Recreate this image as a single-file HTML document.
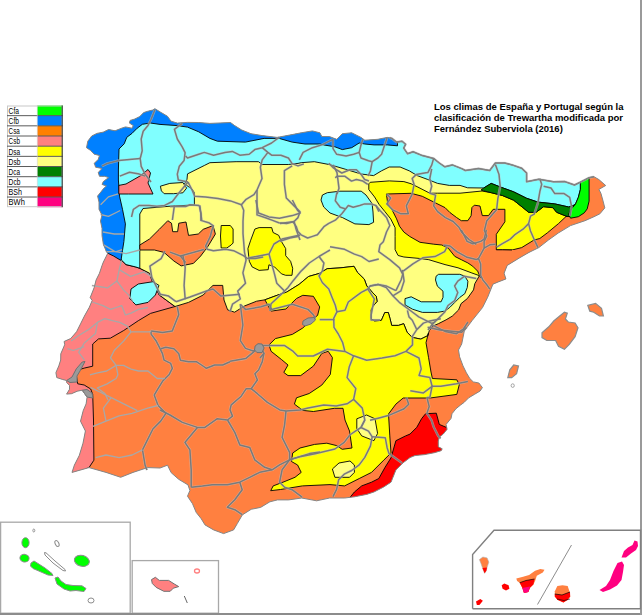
<!DOCTYPE html>
<html><head><meta charset="utf-8"><style>
html,body{margin:0;padding:0;background:#fff;width:642px;height:615px;overflow:hidden;position:relative;font-family:"Liberation Sans",sans-serif}
.t{position:absolute;left:434px;top:100.6px;font-size:9.5px;font-weight:bold;line-height:11.1px;color:#000;white-space:nowrap}
</style></head><body>
<svg width="642" height="615" viewBox="0 0 642 615" style="position:absolute;left:0;top:0"><clipPath id="land"><polygon points="87.8,141.2 91.7,136.0 96.9,133.4 103.4,132.1 108.6,129.5 115.1,130.8 121.6,128.2 125.5,126.9 132.0,128.2 133.3,125.6 129.4,123.0 130.1,120.4 134.6,119.1 139.8,116.5 143.7,112.6 147.6,111.3 152.8,110.0 154.9,108.7 161.1,112.5 167.4,116.2 171.1,121.2 177.3,123.1 187.3,122.4 198.7,122.5 209.9,123.4 230.5,122.5 234.2,125.3 241.7,130.0 251.0,133.7 262.2,135.6 277.2,137.4 292.1,134.6 301.2,132.8 312.4,130.9 319.9,132.8 321.8,136.5 329.3,136.5 336.7,139.3 342.3,133.7 351.7,132.8 361.0,137.4 364.8,140.2 377.9,139.3 387.2,137.4 389.5,137.8 391.9,138.4 396.5,142.1 402.1,141.2 405.6,144.3 403.7,148.1 407.5,153.7 413.1,151.8 422.4,155.6 433.6,158.4 439.3,163.0 444.9,166.8 452.3,164.9 461.7,168.6 465.4,170.5 478.5,168.6 489.7,170.5 495.3,163.0 504.7,163.0 512.1,164.9 521.7,168.3 526.6,173.0 526.6,181.7 538.8,179.3 553.4,181.7 564.8,181.6 574.5,185.0 580.4,182.1 589.1,177.7 594.0,176.7 598.9,179.6 605.7,185.5 598.9,189.4 600.9,193.3 602.8,200.1 604.8,207.9 599.9,213.8 594.0,216.7 585.0,220.7 570.5,225.6 558.3,233.0 548.5,240.0 538.8,247.6 529.0,252.4 520.0,257.6 507.2,265.4 504.1,273.2 505.9,279.0 498.0,282.0 492.9,284.2 487.7,297.2 482.5,307.6 472.1,320.6 464.3,331.0 461.7,344.0 458.5,350.0 459.6,356.8 463.0,365.9 466.4,372.8 469.8,378.5 473.3,381.9 478.9,383.0 482.4,387.6 480.1,391.0 474.4,394.4 468.7,397.8 464.1,402.4 460.7,404.9 455.9,408.8 452.0,413.7 451.0,418.5 446.1,424.4 447.1,429.3 443.2,434.1 439.3,437.1 438.3,441.0 438.3,446.8 442.2,448.8 441.2,450.7 434.4,452.7 424.6,454.6 414.9,455.6 410.0,457.6 403.2,462.7 395.9,470.0 391.0,482.2 383.7,487.0 373.9,492.0 366.6,494.4 354.4,496.8 344.7,498.0 329.7,498.0 316.6,500.8 301.7,498.0 288.6,499.9 277.4,499.9 269.9,501.8 260.6,507.4 251.2,509.3 242.3,514.9 237.3,523.6 233.6,529.9 223.6,533.6 213.6,529.9 205.0,524.9 201.2,518.7 196.2,512.4 192.5,503.7 187.5,496.2 189.9,490.5 188.0,484.9 178.7,479.3 171.2,472.7 167.5,465.2 160.0,468.0 147.6,467.6 133.0,472.4 120.7,477.3 106.0,472.4 89.0,467.6 72.0,472.4 74.4,465.1 79.3,455.4 83.0,443.2 85.4,431.0 80.5,421.2 83.2,410.7 86.1,403.9 87.1,397.1 82.2,390.2 77.3,391.2 71.5,393.7 66.6,394.1 69.5,389.3 69.5,385.4 66.6,382.4 66.6,380.5 62.7,379.5 56.8,377.6 55.9,372.7 58.8,365.9 60.7,360.0 60.8,353.8 64.7,344.7 64.1,341.5 70.7,338.5 76.6,331.7 80.5,323.9 84.4,316.1 89.3,307.3 92.2,300.5 90.2,297.6 94.1,287.8 96.1,280.0 99.4,273.4 102.0,265.6 103.4,262.0 107.8,253.2 106.4,251.7 103.4,244.4 102.0,235.6 102.0,228.3 100.5,221.0 102.0,215.1 99.0,209.3 99.0,202.0 97.6,196.1 103.4,188.8 106.4,185.9 102.0,184.4 103.4,181.5 108.6,177.6 104.7,176.3 99.5,176.3 98.2,172.4 102.1,168.5 95.6,167.2 94.3,163.3 98.2,159.4 99.5,155.5 94.3,154.2 90.4,150.3 86.5,147.7"/></clipPath><g clip-path="url(#land)"><rect x="0" y="0" width="642" height="615" fill="#FF8040"/><polygon points="106.6,250.0 111.5,253.7 121.2,259.8 126.0,264.6 135.9,267.0 139.8,268.3 149.5,273.2 152.0,280.5 159.3,295.0 175.0,306.5 150.5,313.4 138.3,320.7 123.7,330.5 110.3,338.2 98.5,338.9 92.7,344.0 92.7,366.2 84.2,368.1 77.7,370.1 76.4,375.9 77.7,383.8 84.2,385.0 90.7,389.0 92.7,394.4 93.5,420.0 93.9,460.2 89.0,467.6 60.0,480.0 40.0,300.0 90.0,240.0" fill="#FF8080" stroke="#000" stroke-width="0.9"/><polygon points="115.0,150.0 490.0,150.0 490.0,200.0 482.0,272.0 479.8,275.0 474.8,283.7 473.5,289.9 467.3,298.6 461.1,303.6 458.6,309.9 452.3,316.1 446.1,319.8 438.6,323.6 433.0,326.0 429.3,330.7 427.7,335.7 420.8,339.1 412.2,337.4 407.1,332.2 403.7,323.7 398.5,325.4 391.7,325.4 390.0,318.5 388.3,312.5 384.8,312.5 381.4,320.3 374.5,321.1 371.1,318.5 371.1,310.0 372.8,306.5 377.1,301.4 376.3,296.3 372.8,292.8 366.8,286.0 364.3,279.1 357.4,272.3 354.0,266.3 340.0,267.9 327.2,268.7 319.4,273.4 308.5,276.5 299.2,284.3 286.7,292.1 277.4,295.2 264.9,299.8 256.6,301.2 244.4,306.0 234.6,312.2 227.6,309.8 224.0,300.0 222.7,285.4 213.0,285.4 208.0,290.2 203.2,295.0 188.5,302.4 175.0,306.5 159.3,295.0 152.0,280.5 149.5,273.2 139.8,268.3 130.0,260.0 115.0,200.0" fill="#FFFF80" stroke="#000" stroke-width="0.9"/><polygon points="121.2,259.8 126.0,264.6 135.9,267.0 139.8,268.3 139.8,250.0 139.8,214.0 143.0,208.5 172.4,206.0 194.4,205.0 194.4,192.7 192.0,189.0 184.6,184.0 187.0,179.3 187.5,173.9 204.3,165.5 209.9,162.7 236.1,161.7 258.5,161.7 262.2,164.5 288.4,164.5 298.0,163.4 301.2,162.7 314.3,161.7 330.0,164.7 345.6,169.3 361.2,174.0 373.6,175.6 381.4,170.9 389.2,167.0 400.1,167.0 409.4,170.9 417.2,175.6 427.8,179.5 437.6,183.4 449.3,185.4 460.0,185.4 467.6,187.8 483.7,188.0 491.2,183.4 500.6,187.1 513.6,191.8 526.7,198.3 537.9,202.1 554.8,203.9 568.7,207.0 574.5,205.0 575.5,204.0 578.4,197.2 580.4,189.4 580.4,175.0 582.7,100.0 100.0,100.0 105.0,235.0 121.2,259.8" fill="#80FFFF" stroke="#000" stroke-width="0.9"/><polygon points="60.0,262.0 107.8,253.2 113.7,256.1 121.0,260.5 122.5,250.3 123.9,241.5 125.4,223.9 122.5,209.3 119.5,196.1 118.4,180.0 118.4,170.0 119.0,149.0 124.2,143.8 126.8,137.3 132.0,133.4 137.2,128.2 142.4,124.3 150.2,123.0 160.0,124.4 177.0,125.6 187.5,127.1 198.7,131.8 209.9,138.4 217.4,141.2 245.4,142.1 264.1,138.4 279.1,138.4 292.1,142.1 305.0,144.0 319.9,144.0 323.6,144.9 334.9,146.8 342.3,149.6 351.7,147.7 359.2,143.0 364.8,144.0 374.1,144.9 387.2,144.9 397.5,145.8 397.0,130.0 390.0,100.0 60.0,100.0" fill="#0080FF" stroke="#000" stroke-width="0.9"/><polygon points="368.8,183.8 370.2,182.3 389.3,180.9 403.9,181.6 411.2,183.8 417.1,186.7 429.8,193.2 437.6,193.2 460.0,193.2 482.0,191.0 491.2,192.7 502.4,195.5 513.6,200.2 523.0,207.7 528.6,212.3 536.1,212.3 543.6,206.7 552.9,207.7 556.6,212.3 566.0,216.1 571.6,216.1 566.0,216.5 558.5,223.6 547.3,232.9 539.8,238.5 534.0,240.0 521.7,247.6 512.0,250.0 502.6,249.8 496.3,249.8 480.0,275.9 471.1,272.7 458.0,267.8 445.0,264.6 428.8,259.7 420.0,258.5 403.9,257.0 398.1,255.5 395.1,249.7 395.1,236.5 395.1,227.7 390.7,218.9 384.9,211.6 379.0,204.3 374.6,197.0 368.8,189.6" fill="#FFFF00" stroke="#000" stroke-width="0.9"/><polygon points="386.4,194.0 393.0,193.8 411.2,193.3 422.3,196.3 435.3,202.8 445.0,207.6 449.9,212.5 456.4,217.4 461.3,220.7 467.8,220.7 471.1,215.8 471.9,207.6 474.3,205.2 480.0,206.0 482.3,215.6 488.5,215.6 493.2,209.3 504.9,209.3 504.9,221.8 496.3,234.3 496.3,249.8 502.6,249.8 512.0,250.0 530.0,250.0 520.0,300.0 480.7,277.9 477.6,271.1 472.7,266.2 467.8,262.9 461.3,259.7 454.8,256.4 448.3,248.3 441.8,245.0 433.7,244.2 420.0,242.3 409.8,236.5 403.9,232.1 399.5,226.2 396.6,218.9 392.2,210.1 387.8,204.3" fill="#FF8040"/><polyline points="480.7,277.9 477.6,271.1 472.7,266.2 467.8,262.9 461.3,259.7 454.8,256.4 448.3,248.3 441.8,245.0 433.7,244.2 420.0,242.3 409.8,236.5 403.9,232.1 399.5,226.2 396.6,218.9 392.2,210.1 387.8,204.3 386.4,194.0 393.0,193.8 411.2,193.3 422.3,196.3 435.3,202.8 445.0,207.6 449.9,212.5 456.4,217.4 461.3,220.7 467.8,220.7 471.1,215.8 471.9,207.6 474.3,205.2 480.0,206.0 482.3,215.6 488.5,215.6 493.2,209.3 504.9,209.3 504.9,221.8 496.3,234.3 496.3,249.8 502.6,249.8 512.0,250.0" fill="none" stroke="#000" stroke-width="0.9"/><polygon points="264.9,299.8 271.1,311.1 285.9,309.0 296.5,298.5 302.8,295.3 313.4,296.3 319.7,306.9 317.6,315.4 309.2,321.7 302.8,328.0 292.3,334.4 275.4,338.6 269.0,344.9 271.1,351.3 281.7,359.7 288.0,365.0 283.8,372.4 288.0,375.6 300.7,375.6 313.4,366.1 321.8,353.4 328.2,351.3 332.4,357.6 330.3,374.5 321.8,385.1 309.2,393.5 296.5,397.8 294.4,404.1 302.8,410.4 313.4,411.5 334.5,408.3 343.0,408.3 345.0,420.0 349.5,431.0 352.0,448.0 342.2,449.3 336.6,445.6 326.8,443.2 314.6,444.4 300.0,448.0 292.7,453.0 291.5,461.5 297.6,465.0 301.2,472.4 295.0,477.3 283.0,482.2 273.2,485.9 270.7,490.7 280.5,489.5 302.4,485.9 330.0,484.6 344.6,485.9 359.3,478.5 371.5,472.4 383.7,460.2 391.0,453.0 389.8,435.9 388.5,414.0 395.9,404.1 403.2,398.0 430.0,398.0 456.8,394.4 459.3,384.6 456.8,379.8 432.4,378.5 431.0,372.0 428.5,357.3 426.0,342.7 428.5,333.0 427.7,335.7 420.8,339.1 412.2,337.4 407.1,332.2 403.7,323.7 398.5,325.4 391.7,325.4 390.0,318.5 388.3,312.5 384.8,312.5 381.4,320.3 374.5,321.1 371.1,318.5 371.1,310.0 372.8,306.5 377.1,301.4 376.3,296.3 372.8,292.8 366.8,286.0 364.3,279.1 357.4,272.3 354.0,266.3 340.0,267.9 327.2,268.7 319.4,273.4 308.5,276.5 299.2,284.3 286.7,292.1 277.4,295.2" fill="#FFFF00" stroke="#000" stroke-width="0.9"/><polygon points="221.2,225.5 230.3,225.5 233.1,229.0 233.1,243.0 231.0,245.1 226.8,248.0 221.2,248.0 220.5,236.0" fill="#FFFF00" stroke="#000" stroke-width="0.9"/><polygon points="254.9,229.0 259.1,227.6 271.7,227.6 273.1,232.5 278.7,235.3 281.5,241.6 285.7,248.6 285.7,255.7 290.6,261.3 292.7,268.3 292.0,275.3 285.7,275.3 281.5,273.9 274.5,266.9 268.9,264.8 268.2,269.7 259.1,270.4 252.1,266.9 249.3,261.3 247.9,248.6 250.7,240.2" fill="#FFFF00" stroke="#000" stroke-width="0.9"/><polygon points="139.8,245.0 149.5,239.0 159.3,229.3 167.8,220.7 171.5,223.2 172.7,231.7 177.6,231.7 178.8,223.2 186.0,222.0 188.5,235.4 198.3,234.0 203.2,229.3 213.0,225.6 215.4,234.0 208.0,246.3 200.7,256.0 193.4,263.4 181.2,265.9 173.9,261.0 164.0,252.4 154.4,250.0 139.8,250.0" fill="#FF8040" stroke="#000" stroke-width="0.9"/><polygon points="321.0,200.0 323.7,207.0 330.0,213.0 342.5,217.6 354.9,223.9 368.9,224.6 373.6,222.3 373.0,212.0 372.1,203.6 366.0,195.0 361.2,191.2 340.0,191.2 327.3,192.7 322.4,195.0" fill="#80FFFF" stroke="#000" stroke-width="0.9"/><polygon points="438.6,274.3 459.8,274.3 464.8,276.2 467.9,281.2 467.3,287.4 464.8,293.7 459.8,297.4 454.8,302.4 449.8,307.4 444.9,311.1 437.4,312.4 422.4,312.4 412.5,309.2 405.0,304.9 405.0,298.6 411.2,296.8 421.2,301.8 441.1,301.8 443.0,297.4 443.0,291.2 437.4,286.2 435.5,280.0 436.1,276.2" fill="#80FFFF" stroke="#000" stroke-width="0.9"/><polygon points="131.0,289.0 138.3,284.0 153.0,281.7 159.0,285.4 155.4,295.0 148.0,302.4 135.9,304.9 129.8,298.8" fill="#80FFFF" stroke="#000" stroke-width="0.9"/><polygon points="356.8,418.8 366.6,415.0 375.0,418.8 377.6,433.4 373.9,440.7 361.7,435.9 356.8,428.5" fill="#FFFF80" stroke="#000" stroke-width="0.9"/><polygon points="332.4,469.0 339.0,463.0 350.0,461.0 354.4,465.0 354.4,472.4 349.5,477.3 334.9,477.3" fill="#FFFF80" stroke="#000" stroke-width="0.9"/><polygon points="160.4,186.2 169.8,183.4 182.9,182.5 186.6,188.1 182.9,192.8 173.5,193.7 164.2,193.7 161.4,190.9" fill="#FFFF80" stroke="#000" stroke-width="0.9"/><polygon points="118.8,185.4 126.0,184.0 140.7,175.6 148.0,169.5 150.5,173.0 148.0,183.0 153.0,194.0 143.0,194.0 128.5,194.0 118.8,194.0" fill="#FF8080" stroke="#000" stroke-width="0.9"/><polygon points="483.7,188.0 491.2,183.4 500.6,187.1 513.6,191.8 526.7,198.3 537.9,202.1 554.8,203.9 568.7,207.0 574.5,205.0 575.5,204.0 570.6,209.9 568.7,214.8 569.6,216.7 566.0,216.1 556.6,212.3 552.9,207.7 543.6,206.7 536.1,212.3 528.6,212.3 523.0,207.7 513.6,200.2 502.4,195.5 491.2,192.7 483.7,190.8 481.0,190.0" fill="#008000" stroke="#000" stroke-width="0.9"/><polygon points="580.4,175.0 589.1,175.0 589.1,201.1 587.2,208.9 584.3,212.8 578.4,216.7 570.6,218.2 568.7,214.8 570.6,209.9 575.5,204.0 578.4,197.2 580.4,189.4" fill="#00FF00" stroke="#000" stroke-width="0.9"/><polygon points="425.6,413.7 436.3,413.2 439.3,424.4 446.1,427.3 452.0,428.0 445.0,438.0 447.0,452.0 428.0,457.0 417.0,457.0 406.0,466.0 399.0,472.0 395.0,485.0 386.0,491.0 375.0,496.0 367.0,498.0 355.0,500.0 347.0,503.0 349.5,498.0 354.4,492.0 361.7,485.9 371.5,482.2 378.8,478.5 384.9,467.6 391.0,457.8 395.9,440.7 405.6,435.9 410.0,434.1 416.8,427.3 421.7,418.5" fill="#FF0000" stroke="#000" stroke-width="0.9"/></g><g fill="none" stroke="#c8c8c8" stroke-width="2.6" stroke-linejoin="round" opacity="0.55"><polyline points="154.9,109.8 151.0,119.5 148.0,125.4 143.2,131.2 141.2,139.0 142.2,150.7 140.2,158.5 141.2,166.3 145.1,174.1 151.0,182.0"/><polyline points="101.9,166.1 107.1,163.5 118.8,160.5 129.5,159.5 140.2,158.5"/><polyline points="119.8,176.1 129.5,172.2 139.3,174.1 145.1,176.1"/><polyline points="182.2,123.4 174.4,129.3 177.3,139.0 182.2,146.8 185.1,152.7 184.1,160.5 179.3,166.3 177.3,174.1 178.3,180.0 188.0,182.0"/><polyline points="185.6,156.0 187.5,158.0 198.7,154.3 204.3,152.4 213.6,155.2 224.9,152.4 232.3,151.4 239.8,155.2 249.2,154.3 254.8,149.6 262.2,147.7 271.6,143.0 279.1,137.4"/><polyline points="188.0,182.0 192.0,189.8 194.7,196.2 205.6,197.0 218.0,198.6 230.5,200.9 241.4,204.8 246.1,199.3 253.9,194.7 257.0,190.0"/><polyline points="188.0,182.0 178.3,193.7 172.4,201.5 164.6,205.4 156.8,206.3 149.0,205.4 139.3,205.4 133.4,209.3 131.5,217.0"/><polyline points="199.8,205.4 201.7,220.0"/><polyline points="174.4,205.4 172.4,220.0"/><polyline points="262.2,147.7 267.9,152.4 271.6,155.2 280.9,155.2 288.4,158.0 292.1,163.6 298.0,165.9 303.9,163.9"/><polyline points="267.9,152.4 262.2,159.9 260.4,167.3 262.0,178.5 257.0,190.0"/><polyline points="257.0,190.0 257.0,202.5 257.0,214.9 266.3,218.0 272.6,220.4 278.8,222.7 286.6,223.5 294.1,221.5 296.1,229.3 300.0,240.0"/><polyline points="292.2,165.9 284.4,170.7 284.4,184.4 286.3,198.0 294.1,205.9 300.0,211.7 298.0,217.6 294.1,221.5"/><polyline points="299.3,159.9 303.1,152.4 312.4,147.7 321.8,144.9 329.3,141.2 333.0,139.3"/><polyline points="333.0,139.3 333.0,148.6 336.7,154.3 346.1,156.1 353.6,154.3 359.2,152.4 361.0,158.0 368.5,160.8 372.2,161.7 377.9,158.0 381.6,154.3 383.5,148.6 385.3,143.0 387.2,137.4"/><polyline points="362.9,139.3 361.0,144.9 359.2,152.4"/><polyline points="333.2,164.9 337.0,172.7 339.0,188.3 337.0,194.1"/><polyline points="372.2,161.7 370.4,171.1 368.0,176.0"/><polyline points="328.8,163.3 333.7,168.1 341.8,173.0 349.9,169.8 356.4,169.8 361.3,174.6 364.6,179.5 369.0,181.0"/><polyline points="433.6,158.4 431.8,164.9 428.0,172.4 425.9,172.7 416.1,174.6 412.2,178.5 414.1,184.4 412.2,194.1 406.3,205.9 408.3,213.7 400.5,213.7 392.7,209.8 386.8,203.9 390.7,198.0 386.8,194.1"/><polyline points="431.7,168.8 429.8,178.5 431.7,186.3 429.8,193.2 435.6,195.1 433.7,205.9 437.6,211.7 445.4,217.6 453.2,221.5 459.0,227.3 461.7,232.2 469.0,239.5 476.3,244.4"/><polyline points="375.9,205.5 379.0,211.7"/><polyline points="495.4,164.6 499.0,174.4 500.2,186.6 497.8,198.8 496.6,209.8 486.8,220.7 484.4,230.5 486.8,236.0 484.1,241.4 484.1,248.2 478.5,258.5 480.7,264.1 480.7,275.5 483.0,280.1 487.6,285.8 489.8,289.2"/><polyline points="484.1,248.2 489.8,244.8 495.5,244.2"/><polyline points="539.8,178.7 541.7,184.3 539.8,191.8 537.9,203.0 536.1,208.6 534.2,214.2 530.5,216.1 528.6,223.6 530.5,231.0 535.6,242.7 538.0,247.6"/><polyline points="528.6,223.6 523.0,229.2 514.9,234.6 510.3,239.1 502.4,243.7 496.7,247.1"/><polyline points="543.6,186.2 551.0,188.0 554.8,193.6 564.1,193.6 569.7,197.4 571.6,206.7 570.0,216.0"/><polyline points="461.4,230.0 467.1,241.4 472.8,243.7 480.7,241.4 484.1,239.1 486.4,230.0"/><polyline points="395.9,290.7 386.1,285.9 378.1,284.4 370.0,286.0 367.8,289.0 361.3,292.3 354.8,297.2 348.3,302.0 345.0,310.2 336.9,311.8"/><polyline points="330.0,246.8 344.6,249.3 354.4,254.1 361.7,256.6 369.0,261.5 378.8,259.0"/><polyline points="403.2,271.2 412.9,263.9 422.7,257.8 434.9,256.6 444.6,251.7 447.0,246.8"/><polyline points="476.3,278.5 464.3,276.3 457.8,281.1 454.6,286.0 457.8,292.5 454.6,300.7 448.0,305.5 444.8,312.0 439.9,316.9 435.0,321.8 431.8,325.0 428.0,330.0"/><polyline points="370.0,286.0 378.1,284.4 386.3,287.6 392.8,295.8 399.3,302.3 405.8,307.2 412.3,312.0 418.8,316.9 425.3,320.2 431.8,323.4 435.0,321.8"/><polyline points="402.5,269.8 404.1,281.1 400.9,290.9 392.8,295.8"/><polyline points="319.0,256.5 323.9,263.0 322.3,271.1 319.0,276.0 322.3,282.5 328.8,289.0 332.0,297.2 335.3,305.3 336.9,311.8 333.7,318.3 334.0,327.4 338.3,334.0 342.7,342.7 344.9,351.4 353.6,355.8 366.7,360.2 382.0,358.0 395.0,355.8 405.9,351.4 412.5,344.9 412.5,336.2 416.8,329.6 423.4,323.1 429.9,320.9 440.8,318.7"/><polyline points="367.8,289.0 374.3,298.8 372.7,306.9 371.1,315.0 371.1,319.9 380.0,320.0"/><polyline points="319.7,319.6 334.5,319.6"/><polyline points="407.4,310.4 409.0,316.9 412.3,320.2 416.8,329.6"/><polyline points="427.6,327.3 440.0,330.0 461.7,332.2 466.6,327.3"/><polyline points="170.0,206.5 185.6,206.5 190.0,204.8 199.3,205.6"/><polyline points="199.3,205.6 200.9,213.4 200.9,220.4 208.7,222.7 213.4,225.8 211.8,230.5 210.2,236.7 205.6,246.1 207.1,249.2 213.4,250.7 225.8,249.2 233.6,250.7 243.0,255.4 247.6,258.5 255.4,258.5 263.2,257.0"/><polyline points="170.0,252.1 180.4,256.0 185.6,262.5"/><polyline points="180.4,256.0 203.9,249.5"/><polyline points="241.4,204.8 243.7,210.2 243.0,221.2 243.0,233.6 244.5,252.3 246.1,260.0 242.9,272.9 245.5,283.3 237.7,291.1 240.3,299.0 232.5,304.2 229.9,312.0"/><polyline points="255.9,200.0 258.5,213.0 269.0,216.9 279.4,218.2 292.4,215.6 300.2,213.0 297.6,210.4 292.4,200.0"/><polyline points="280.0,223.4 293.0,221.8 296.3,226.7 297.9,231.5 301.1,234.8 307.6,238.0 312.5,236.4 317.4,234.8 323.9,226.7 328.8,223.4 335.3,220.2 341.8,213.7 348.3,205.5 353.2,207.2 359.7,205.5 364.6,203.9 371.1,203.9 375.9,205.5 380.0,210.4 386.5,217.4 389.8,225.5 386.5,232.0 383.3,241.8 380.0,245.0 378.8,251.7 389.8,259.7 399.5,267.8 402.8,274.3 401.1,280.0 395.9,290.7"/><polyline points="280.0,241.3 289.8,238.0 297.9,236.4"/><polyline points="336.9,192.5 335.3,200.7 340.2,207.2 345.0,208.8"/><polyline points="335.3,177.9 336.9,176.3 345.0,176.3 351.5,181.1 356.4,179.5 362.9,181.1 367.8,184.4"/><polyline points="443.4,245.0 450.0,246.0 456.8,251.6 467.1,257.3 476.2,259.6 478.5,258.5"/><polyline points="248.1,258.0 259.0,256.0 269.0,254.0 274.0,244.0 282.0,239.1 300.2,235.0"/><polyline points="269.0,254.0 274.2,272.9 276.8,283.3 284.6,291.1 271.1,303.7 270.0,311.1"/><polyline points="284.6,291.1 288.1,287.4 293.0,280.9 301.1,271.1 309.3,263.0 319.0,256.5 327.2,251.6 330.0,250.0"/><polyline points="240.3,304.2 245.5,309.4 261.1,306.8 269.0,304.2 271.6,309.4 292.4,304.2 308.0,309.4 313.2,314.6 315.5,318.5"/><polyline points="240.3,304.2 242.9,325.0 240.3,340.6 245.5,348.4 253.3,351.0 261.1,345.8 263.8,353.6 260.0,358.0"/><polyline points="164.9,251.2 161.1,258.7 149.9,266.2 151.8,277.4 157.4,288.6 160.2,294.2 168.6,296.1 176.0,301.7"/><polyline points="183.0,255.9 185.2,267.3 184.1,285.5 185.2,299.2"/><polyline points="176.0,301.7 190.0,297.0 207.9,290.5 213.0,289.0 221.0,296.1 240.0,294.2"/><polyline points="177.2,306.5 178.8,314.6 175.5,322.8 172.3,330.9 162.5,332.5 151.1,330.9"/><polyline points="151.1,330.9 151.1,334.1 156.0,340.7 159.3,347.2 162.5,353.7 164.1,360.2 170.7,363.4 172.3,368.3 169.0,374.8 162.5,381.3 157.6,389.4 154.2,395.1 158.1,405.5 165.9,413.3 160.7,421.1 152.9,429.0 147.7,439.4 142.5,449.8 145.1,465.4 147.0,470.0"/><polyline points="160.9,348.8 165.8,347.2 173.9,348.8 178.8,353.7 180.4,360.2 188.5,361.8 196.7,361.8 201.5,365.0 206.4,368.3 214.6,365.0 222.7,365.0 230.0,361.8"/><polyline points="160.0,410.0 170.0,415.0 182.4,422.4 197.4,427.4 204.9,427.4 217.3,418.7 227.5,420.0"/><polyline points="197.4,427.4 184.9,442.4 189.9,449.8 191.2,469.8 191.2,487.2"/><polyline points="269.0,345.6 284.7,345.6 292.5,350.8 297.7,356.0 313.3,356.0 327.4,349.3 344.9,351.4"/><polyline points="353.6,355.8 349.3,366.7 347.1,377.6 355.8,388.5 353.6,399.4 362.3,408.1 364.8,420.0 361.0,427.5 368.5,431.2 372.2,436.8 370.4,446.2 364.8,457.4 359.2,464.9 351.7,470.5 344.2,474.2 338.6,479.8 336.7,489.2 333.0,496.6"/><polyline points="251.2,388.7 257.4,393.7 267.4,402.4 279.8,409.9 286.0,411.1 300.0,409.9 308.1,408.1 323.8,405.0 336.2,405.9 347.1,403.8 353.6,399.4"/><polyline points="289.6,459.8 282.1,469.8 279.6,482.2 284.6,487.2 292.1,489.7 302.1,497.2"/><polyline points="289.6,459.8 301.2,456.4 316.2,453.6 334.9,449.0 344.2,442.4 349.8,435.0 355.4,431.2 361.0,427.5 364.8,420.0"/><polyline points="230.0,361.3 245.6,358.6 261.2,345.6 269.0,345.6"/><polyline points="264.1,352.6 262.3,361.6 258.6,370.0 254.9,373.7 257.4,380.0 251.2,388.7 246.2,388.7 241.2,396.2 231.2,404.9 230.0,409.9 232.5,416.1 227.5,420.0"/><polyline points="431.5,324.6 445.1,331.4 456.5,333.7 463.3,329.1 468.0,322.0"/><polyline points="405.9,351.4 419.0,358.0 421.2,368.9 419.0,375.4 429.9,377.6 432.1,386.3 429.9,397.2 426.9,397.4"/><polyline points="410.3,390.7 423.4,392.9 432.1,386.3 440.8,386.3 456.5,383.7 467.9,381.5"/><polyline points="426.9,397.4 429.2,406.5 426.9,413.3 431.5,420.2 433.7,427.0 438.3,436.1 440.6,438.4"/><polyline points="388.2,415.6 404.1,408.8 408.7,404.2 406.4,397.4"/><polyline points="370.0,420.2 379.1,417.9 388.2,415.6"/><polyline points="372.2,436.8 385.3,437.8 387.2,448.0 389.0,453.6 402.1,463.0"/><polyline points="191.2,487.2 202.4,486.0 212.3,484.7 227.3,484.7 239.8,482.2 249.7,477.3 259.7,472.3 272.1,469.8 279.6,464.8 289.6,459.8 309.5,453.6 320.0,452.0"/><polyline points="239.8,482.2 242.2,489.7 234.8,499.7 227.3,507.2 234.8,509.7 242.2,514.6"/><polyline points="227.5,420.0 234.8,432.4 239.8,444.9 249.7,447.4 254.7,459.8 264.7,467.3 272.1,469.8"/><polyline points="286.0,411.1 284.6,424.9 282.1,437.4 289.6,452.3 289.6,459.8"/><polyline points="389.5,137.8 391.9,138.4 396.5,142.1 402.1,141.2 405.6,144.3 403.7,148.1 407.5,153.7 413.1,151.8 422.4,155.6 433.6,158.4 439.3,163.0 444.9,166.8 452.3,164.9 461.7,168.6 465.4,170.5 478.5,168.6 489.7,170.5 495.3,163.0 504.7,163.0 512.1,164.9 521.7,168.3 526.6,173.0 526.6,181.7 538.8,179.3 553.4,181.7 564.8,181.6 574.5,185.0 580.4,182.1 589.1,177.7 594.0,176.7"/></g><g fill="none" stroke="#7a7a7a" stroke-width="1.5" stroke-linejoin="round"><polyline points="154.9,109.8 151.0,119.5 148.0,125.4 143.2,131.2 141.2,139.0 142.2,150.7 140.2,158.5 141.2,166.3 145.1,174.1 151.0,182.0"/><polyline points="101.9,166.1 107.1,163.5 118.8,160.5 129.5,159.5 140.2,158.5"/><polyline points="119.8,176.1 129.5,172.2 139.3,174.1 145.1,176.1"/><polyline points="182.2,123.4 174.4,129.3 177.3,139.0 182.2,146.8 185.1,152.7 184.1,160.5 179.3,166.3 177.3,174.1 178.3,180.0 188.0,182.0"/><polyline points="185.6,156.0 187.5,158.0 198.7,154.3 204.3,152.4 213.6,155.2 224.9,152.4 232.3,151.4 239.8,155.2 249.2,154.3 254.8,149.6 262.2,147.7 271.6,143.0 279.1,137.4"/><polyline points="188.0,182.0 192.0,189.8 194.7,196.2 205.6,197.0 218.0,198.6 230.5,200.9 241.4,204.8 246.1,199.3 253.9,194.7 257.0,190.0"/><polyline points="188.0,182.0 178.3,193.7 172.4,201.5 164.6,205.4 156.8,206.3 149.0,205.4 139.3,205.4 133.4,209.3 131.5,217.0"/><polyline points="199.8,205.4 201.7,220.0"/><polyline points="174.4,205.4 172.4,220.0"/><polyline points="262.2,147.7 267.9,152.4 271.6,155.2 280.9,155.2 288.4,158.0 292.1,163.6 298.0,165.9 303.9,163.9"/><polyline points="267.9,152.4 262.2,159.9 260.4,167.3 262.0,178.5 257.0,190.0"/><polyline points="257.0,190.0 257.0,202.5 257.0,214.9 266.3,218.0 272.6,220.4 278.8,222.7 286.6,223.5 294.1,221.5 296.1,229.3 300.0,240.0"/><polyline points="292.2,165.9 284.4,170.7 284.4,184.4 286.3,198.0 294.1,205.9 300.0,211.7 298.0,217.6 294.1,221.5"/><polyline points="299.3,159.9 303.1,152.4 312.4,147.7 321.8,144.9 329.3,141.2 333.0,139.3"/><polyline points="333.0,139.3 333.0,148.6 336.7,154.3 346.1,156.1 353.6,154.3 359.2,152.4 361.0,158.0 368.5,160.8 372.2,161.7 377.9,158.0 381.6,154.3 383.5,148.6 385.3,143.0 387.2,137.4"/><polyline points="362.9,139.3 361.0,144.9 359.2,152.4"/><polyline points="333.2,164.9 337.0,172.7 339.0,188.3 337.0,194.1"/><polyline points="372.2,161.7 370.4,171.1 368.0,176.0"/><polyline points="328.8,163.3 333.7,168.1 341.8,173.0 349.9,169.8 356.4,169.8 361.3,174.6 364.6,179.5 369.0,181.0"/><polyline points="433.6,158.4 431.8,164.9 428.0,172.4 425.9,172.7 416.1,174.6 412.2,178.5 414.1,184.4 412.2,194.1 406.3,205.9 408.3,213.7 400.5,213.7 392.7,209.8 386.8,203.9 390.7,198.0 386.8,194.1"/><polyline points="431.7,168.8 429.8,178.5 431.7,186.3 429.8,193.2 435.6,195.1 433.7,205.9 437.6,211.7 445.4,217.6 453.2,221.5 459.0,227.3 461.7,232.2 469.0,239.5 476.3,244.4"/><polyline points="375.9,205.5 379.0,211.7"/><polyline points="495.4,164.6 499.0,174.4 500.2,186.6 497.8,198.8 496.6,209.8 486.8,220.7 484.4,230.5 486.8,236.0 484.1,241.4 484.1,248.2 478.5,258.5 480.7,264.1 480.7,275.5 483.0,280.1 487.6,285.8 489.8,289.2"/><polyline points="484.1,248.2 489.8,244.8 495.5,244.2"/><polyline points="539.8,178.7 541.7,184.3 539.8,191.8 537.9,203.0 536.1,208.6 534.2,214.2 530.5,216.1 528.6,223.6 530.5,231.0 535.6,242.7 538.0,247.6"/><polyline points="528.6,223.6 523.0,229.2 514.9,234.6 510.3,239.1 502.4,243.7 496.7,247.1"/><polyline points="543.6,186.2 551.0,188.0 554.8,193.6 564.1,193.6 569.7,197.4 571.6,206.7 570.0,216.0"/><polyline points="461.4,230.0 467.1,241.4 472.8,243.7 480.7,241.4 484.1,239.1 486.4,230.0"/><polyline points="395.9,290.7 386.1,285.9 378.1,284.4 370.0,286.0 367.8,289.0 361.3,292.3 354.8,297.2 348.3,302.0 345.0,310.2 336.9,311.8"/><polyline points="330.0,246.8 344.6,249.3 354.4,254.1 361.7,256.6 369.0,261.5 378.8,259.0"/><polyline points="403.2,271.2 412.9,263.9 422.7,257.8 434.9,256.6 444.6,251.7 447.0,246.8"/><polyline points="476.3,278.5 464.3,276.3 457.8,281.1 454.6,286.0 457.8,292.5 454.6,300.7 448.0,305.5 444.8,312.0 439.9,316.9 435.0,321.8 431.8,325.0 428.0,330.0"/><polyline points="370.0,286.0 378.1,284.4 386.3,287.6 392.8,295.8 399.3,302.3 405.8,307.2 412.3,312.0 418.8,316.9 425.3,320.2 431.8,323.4 435.0,321.8"/><polyline points="402.5,269.8 404.1,281.1 400.9,290.9 392.8,295.8"/><polyline points="319.0,256.5 323.9,263.0 322.3,271.1 319.0,276.0 322.3,282.5 328.8,289.0 332.0,297.2 335.3,305.3 336.9,311.8 333.7,318.3 334.0,327.4 338.3,334.0 342.7,342.7 344.9,351.4 353.6,355.8 366.7,360.2 382.0,358.0 395.0,355.8 405.9,351.4 412.5,344.9 412.5,336.2 416.8,329.6 423.4,323.1 429.9,320.9 440.8,318.7"/><polyline points="367.8,289.0 374.3,298.8 372.7,306.9 371.1,315.0 371.1,319.9 380.0,320.0"/><polyline points="319.7,319.6 334.5,319.6"/><polyline points="407.4,310.4 409.0,316.9 412.3,320.2 416.8,329.6"/><polyline points="427.6,327.3 440.0,330.0 461.7,332.2 466.6,327.3"/><polyline points="170.0,206.5 185.6,206.5 190.0,204.8 199.3,205.6"/><polyline points="199.3,205.6 200.9,213.4 200.9,220.4 208.7,222.7 213.4,225.8 211.8,230.5 210.2,236.7 205.6,246.1 207.1,249.2 213.4,250.7 225.8,249.2 233.6,250.7 243.0,255.4 247.6,258.5 255.4,258.5 263.2,257.0"/><polyline points="170.0,252.1 180.4,256.0 185.6,262.5"/><polyline points="180.4,256.0 203.9,249.5"/><polyline points="241.4,204.8 243.7,210.2 243.0,221.2 243.0,233.6 244.5,252.3 246.1,260.0 242.9,272.9 245.5,283.3 237.7,291.1 240.3,299.0 232.5,304.2 229.9,312.0"/><polyline points="255.9,200.0 258.5,213.0 269.0,216.9 279.4,218.2 292.4,215.6 300.2,213.0 297.6,210.4 292.4,200.0"/><polyline points="280.0,223.4 293.0,221.8 296.3,226.7 297.9,231.5 301.1,234.8 307.6,238.0 312.5,236.4 317.4,234.8 323.9,226.7 328.8,223.4 335.3,220.2 341.8,213.7 348.3,205.5 353.2,207.2 359.7,205.5 364.6,203.9 371.1,203.9 375.9,205.5 380.0,210.4 386.5,217.4 389.8,225.5 386.5,232.0 383.3,241.8 380.0,245.0 378.8,251.7 389.8,259.7 399.5,267.8 402.8,274.3 401.1,280.0 395.9,290.7"/><polyline points="280.0,241.3 289.8,238.0 297.9,236.4"/><polyline points="336.9,192.5 335.3,200.7 340.2,207.2 345.0,208.8"/><polyline points="335.3,177.9 336.9,176.3 345.0,176.3 351.5,181.1 356.4,179.5 362.9,181.1 367.8,184.4"/><polyline points="443.4,245.0 450.0,246.0 456.8,251.6 467.1,257.3 476.2,259.6 478.5,258.5"/><polyline points="248.1,258.0 259.0,256.0 269.0,254.0 274.0,244.0 282.0,239.1 300.2,235.0"/><polyline points="269.0,254.0 274.2,272.9 276.8,283.3 284.6,291.1 271.1,303.7 270.0,311.1"/><polyline points="284.6,291.1 288.1,287.4 293.0,280.9 301.1,271.1 309.3,263.0 319.0,256.5 327.2,251.6 330.0,250.0"/><polyline points="240.3,304.2 245.5,309.4 261.1,306.8 269.0,304.2 271.6,309.4 292.4,304.2 308.0,309.4 313.2,314.6 315.5,318.5"/><polyline points="240.3,304.2 242.9,325.0 240.3,340.6 245.5,348.4 253.3,351.0 261.1,345.8 263.8,353.6 260.0,358.0"/><polyline points="164.9,251.2 161.1,258.7 149.9,266.2 151.8,277.4 157.4,288.6 160.2,294.2 168.6,296.1 176.0,301.7"/><polyline points="183.0,255.9 185.2,267.3 184.1,285.5 185.2,299.2"/><polyline points="176.0,301.7 190.0,297.0 207.9,290.5 213.0,289.0 221.0,296.1 240.0,294.2"/><polyline points="177.2,306.5 178.8,314.6 175.5,322.8 172.3,330.9 162.5,332.5 151.1,330.9"/><polyline points="151.1,330.9 151.1,334.1 156.0,340.7 159.3,347.2 162.5,353.7 164.1,360.2 170.7,363.4 172.3,368.3 169.0,374.8 162.5,381.3 157.6,389.4 154.2,395.1 158.1,405.5 165.9,413.3 160.7,421.1 152.9,429.0 147.7,439.4 142.5,449.8 145.1,465.4 147.0,470.0"/><polyline points="160.9,348.8 165.8,347.2 173.9,348.8 178.8,353.7 180.4,360.2 188.5,361.8 196.7,361.8 201.5,365.0 206.4,368.3 214.6,365.0 222.7,365.0 230.0,361.8"/><polyline points="160.0,410.0 170.0,415.0 182.4,422.4 197.4,427.4 204.9,427.4 217.3,418.7 227.5,420.0"/><polyline points="197.4,427.4 184.9,442.4 189.9,449.8 191.2,469.8 191.2,487.2"/><polyline points="269.0,345.6 284.7,345.6 292.5,350.8 297.7,356.0 313.3,356.0 327.4,349.3 344.9,351.4"/><polyline points="353.6,355.8 349.3,366.7 347.1,377.6 355.8,388.5 353.6,399.4 362.3,408.1 364.8,420.0 361.0,427.5 368.5,431.2 372.2,436.8 370.4,446.2 364.8,457.4 359.2,464.9 351.7,470.5 344.2,474.2 338.6,479.8 336.7,489.2 333.0,496.6"/><polyline points="251.2,388.7 257.4,393.7 267.4,402.4 279.8,409.9 286.0,411.1 300.0,409.9 308.1,408.1 323.8,405.0 336.2,405.9 347.1,403.8 353.6,399.4"/><polyline points="289.6,459.8 282.1,469.8 279.6,482.2 284.6,487.2 292.1,489.7 302.1,497.2"/><polyline points="289.6,459.8 301.2,456.4 316.2,453.6 334.9,449.0 344.2,442.4 349.8,435.0 355.4,431.2 361.0,427.5 364.8,420.0"/><polyline points="230.0,361.3 245.6,358.6 261.2,345.6 269.0,345.6"/><polyline points="264.1,352.6 262.3,361.6 258.6,370.0 254.9,373.7 257.4,380.0 251.2,388.7 246.2,388.7 241.2,396.2 231.2,404.9 230.0,409.9 232.5,416.1 227.5,420.0"/><polyline points="431.5,324.6 445.1,331.4 456.5,333.7 463.3,329.1 468.0,322.0"/><polyline points="405.9,351.4 419.0,358.0 421.2,368.9 419.0,375.4 429.9,377.6 432.1,386.3 429.9,397.2 426.9,397.4"/><polyline points="410.3,390.7 423.4,392.9 432.1,386.3 440.8,386.3 456.5,383.7 467.9,381.5"/><polyline points="426.9,397.4 429.2,406.5 426.9,413.3 431.5,420.2 433.7,427.0 438.3,436.1 440.6,438.4"/><polyline points="388.2,415.6 404.1,408.8 408.7,404.2 406.4,397.4"/><polyline points="370.0,420.2 379.1,417.9 388.2,415.6"/><polyline points="372.2,436.8 385.3,437.8 387.2,448.0 389.0,453.6 402.1,463.0"/><polyline points="191.2,487.2 202.4,486.0 212.3,484.7 227.3,484.7 239.8,482.2 249.7,477.3 259.7,472.3 272.1,469.8 279.6,464.8 289.6,459.8 309.5,453.6 320.0,452.0"/><polyline points="239.8,482.2 242.2,489.7 234.8,499.7 227.3,507.2 234.8,509.7 242.2,514.6"/><polyline points="227.5,420.0 234.8,432.4 239.8,444.9 249.7,447.4 254.7,459.8 264.7,467.3 272.1,469.8"/><polyline points="286.0,411.1 284.6,424.9 282.1,437.4 289.6,452.3 289.6,459.8"/><polyline points="389.5,137.8 391.9,138.4 396.5,142.1 402.1,141.2 405.6,144.3 403.7,148.1 407.5,153.7 413.1,151.8 422.4,155.6 433.6,158.4 439.3,163.0 444.9,166.8 452.3,164.9 461.7,168.6 465.4,170.5 478.5,168.6 489.7,170.5 495.3,163.0 504.7,163.0 512.1,164.9 521.7,168.3 526.6,173.0 526.6,181.7 538.8,179.3 553.4,181.7 564.8,181.6 574.5,185.0 580.4,182.1 589.1,177.7 594.0,176.7"/></g><g fill="none" stroke="#a8a8a8" stroke-width="1.3" stroke-linejoin="round"><polyline points="100.6,204.7 108.4,196.9 118.2,193.9"/><polyline points="100.6,214.5 108.4,216.4 116.3,212.5 120.2,210.5"/><polyline points="103.0,232.0 114.3,234.0 124.1,234.0"/><polyline points="106.0,251.6 116.3,251.6 122.1,249.6"/><polyline points="103.3,244.6 114.6,251.4 126.0,253.7 139.7,250.0"/><polyline points="121.5,260.5 119.2,269.6 116.9,281.0 107.8,287.8 91.9,285.5"/><polyline points="119.2,269.6 130.6,276.4 144.2,271.9 151.0,276.4"/><polyline points="116.9,281.0 123.7,290.1 128.3,294.6 132.8,301.5"/><polyline points="92.2,302.0 103.0,305.6 110.5,309.3 116.1,307.5 121.7,305.6 125.4,315.0 131.0,313.1 138.5,309.3 147.9,307.5"/><polyline points="71.2,341.1 78.7,335.5 88.0,329.9 97.4,322.4 104.9,318.7 112.3,320.6 119.8,322.4 127.3,326.2 131.0,331.8 140.4,331.8 149.7,331.8 151.1,330.9"/><polyline points="97.4,322.4 95.5,333.6 84.3,343.0 78.7,352.3 84.3,359.8"/><polyline points="67.5,348.6 73.1,350.5 84.3,346.7"/><polyline points="131.0,331.8 123.6,341.1 114.2,350.5 110.5,357.9 116.1,365.4 117.9,374.8 116.1,378.5 106.7,384.1 97.4,387.9 104.9,393.5 108.0,400.0"/><polyline points="89.9,374.8 97.4,372.9 106.7,371.0 116.1,365.4 123.6,365.4 131.0,369.2 138.5,371.0 147.9,371.0 157.2,378.5 164.7,378.5"/><polyline points="95.6,457.6 106.0,455.0 119.1,457.6 132.1,455.0 142.5,449.8"/><polyline points="93.0,426.4 106.0,421.1 119.1,415.9 132.1,413.3 147.7,408.1 158.1,405.5"/><polyline points="106.0,421.1 103.4,408.1 111.2,397.7 121.7,402.9 137.3,410.7"/><polyline points="90.4,387.3 100.8,392.5 111.2,397.7"/></g><polygon points="66.6,380.5 72.0,377.0 76.3,368.8 82.2,362.0 85.0,361.5 80.0,371.0 77.0,376.0 77.0,382.0 70.0,382.5" fill="#9a9a9a" stroke="#707070" stroke-width="1"/><polygon points="82.2,390.2 87.0,389.5 92.0,393.0 93.0,398.0 87.1,397.1" fill="#9a9a9a" stroke="#707070" stroke-width="1"/><polygon points="255.1,346.0 258.0,343.7 262.0,344.0 264.1,348.0 262.0,352.6 257.0,352.6 254.5,350.0" fill="#9a9a9a" stroke="#707070" stroke-width="1"/><polygon points="303.0,321.0 308.0,318.0 314.0,317.5 315.5,320.0 311.0,324.0 305.0,326.0 302.5,324.5" fill="#9a9a9a" stroke="#707070" stroke-width="1"/><polygon points="87.8,141.2 91.7,136.0 96.9,133.4 103.4,132.1 108.6,129.5 115.1,130.8 121.6,128.2 125.5,126.9 132.0,128.2 133.3,125.6 129.4,123.0 130.1,120.4 134.6,119.1 139.8,116.5 143.7,112.6 147.6,111.3 152.8,110.0 154.9,108.7 161.1,112.5 167.4,116.2 171.1,121.2 177.3,123.1 187.3,122.4 198.7,122.5 209.9,123.4 230.5,122.5 234.2,125.3 241.7,130.0 251.0,133.7 262.2,135.6 277.2,137.4 292.1,134.6 301.2,132.8 312.4,130.9 319.9,132.8 321.8,136.5 329.3,136.5 336.7,139.3 342.3,133.7 351.7,132.8 361.0,137.4 364.8,140.2 377.9,139.3 387.2,137.4 389.5,137.8 391.9,138.4 396.5,142.1 402.1,141.2 405.6,144.3 403.7,148.1 407.5,153.7 413.1,151.8 422.4,155.6 433.6,158.4 439.3,163.0 444.9,166.8 452.3,164.9 461.7,168.6 465.4,170.5 478.5,168.6 489.7,170.5 495.3,163.0 504.7,163.0 512.1,164.9 521.7,168.3 526.6,173.0 526.6,181.7 538.8,179.3 553.4,181.7 564.8,181.6 574.5,185.0 580.4,182.1 589.1,177.7 594.0,176.7 598.9,179.6 605.7,185.5 598.9,189.4 600.9,193.3 602.8,200.1 604.8,207.9 599.9,213.8 594.0,216.7 585.0,220.7 570.5,225.6 558.3,233.0 548.5,240.0 538.8,247.6 529.0,252.4 520.0,257.6 507.2,265.4 504.1,273.2 505.9,279.0 498.0,282.0 492.9,284.2 487.7,297.2 482.5,307.6 472.1,320.6 464.3,331.0 461.7,344.0 458.5,350.0 459.6,356.8 463.0,365.9 466.4,372.8 469.8,378.5 473.3,381.9 478.9,383.0 482.4,387.6 480.1,391.0 474.4,394.4 468.7,397.8 464.1,402.4 460.7,404.9 455.9,408.8 452.0,413.7 451.0,418.5 446.1,424.4 447.1,429.3 443.2,434.1 439.3,437.1 438.3,441.0 438.3,446.8 442.2,448.8 441.2,450.7 434.4,452.7 424.6,454.6 414.9,455.6 410.0,457.6 403.2,462.7 395.9,470.0 391.0,482.2 383.7,487.0 373.9,492.0 366.6,494.4 354.4,496.8 344.7,498.0 329.7,498.0 316.6,500.8 301.7,498.0 288.6,499.9 277.4,499.9 269.9,501.8 260.6,507.4 251.2,509.3 242.3,514.9 237.3,523.6 233.6,529.9 223.6,533.6 213.6,529.9 205.0,524.9 201.2,518.7 196.2,512.4 192.5,503.7 187.5,496.2 189.9,490.5 188.0,484.9 178.7,479.3 171.2,472.7 167.5,465.2 160.0,468.0 147.6,467.6 133.0,472.4 120.7,477.3 106.0,472.4 89.0,467.6 72.0,472.4 74.4,465.1 79.3,455.4 83.0,443.2 85.4,431.0 80.5,421.2 83.2,410.7 86.1,403.9 87.1,397.1 82.2,390.2 77.3,391.2 71.5,393.7 66.6,394.1 69.5,389.3 69.5,385.4 66.6,382.4 66.6,380.5 62.7,379.5 56.8,377.6 55.9,372.7 58.8,365.9 60.7,360.0 60.8,353.8 64.7,344.7 64.1,341.5 70.7,338.5 76.6,331.7 80.5,323.9 84.4,316.1 89.3,307.3 92.2,300.5 90.2,297.6 94.1,287.8 96.1,280.0 99.4,273.4 102.0,265.6 103.4,262.0 107.8,253.2 106.4,251.7 103.4,244.4 102.0,235.6 102.0,228.3 100.5,221.0 102.0,215.1 99.0,209.3 99.0,202.0 97.6,196.1 103.4,188.8 106.4,185.9 102.0,184.4 103.4,181.5 108.6,177.6 104.7,176.3 99.5,176.3 98.2,172.4 102.1,168.5 95.6,167.2 94.3,163.3 98.2,159.4 99.5,155.5 94.3,154.2 90.4,150.3 86.5,147.7" fill="none" stroke="#858585" stroke-width="1" stroke-linejoin="round"/><polygon points="542.0,332.7 548.8,326.8 553.7,321.0 558.5,317.0 564.4,312.2 567.3,313.2 565.4,319.0 568.3,322.0 575.1,323.0 578.0,327.8 575.1,336.6 569.3,344.4 564.4,349.3 558.5,346.3 555.6,340.5 546.8,340.5 542.0,337.6" fill="#FF8040" stroke="#8c8c8c" stroke-width="1.2"/><polygon points="587.8,305.4 595.6,303.4 601.5,308.3 603.4,316.0 599.5,316.0 593.7,312.2 589.8,311.2" fill="#FF8040" stroke="#8c8c8c" stroke-width="1.2"/><polygon points="507.8,377.6 509.8,369.8 513.7,365.0 518.5,365.9 516.6,373.7 511.7,377.6" fill="#FF8040" stroke="#8c8c8c" stroke-width="1.2"/><rect x="37.3" y="105.50" width="25.40" height="10.17" fill="#00FF00"/><text x="8.6" y="113.90" font-family="Liberation Sans" font-size="8.2" textLength="10.4" lengthAdjust="spacingAndGlyphs" fill="#000">Cfa</text><rect x="37.3" y="115.67" width="25.40" height="10.17" fill="#0080FF"/><text x="8.6" y="124.07" font-family="Liberation Sans" font-size="8.2" textLength="10.4" lengthAdjust="spacingAndGlyphs" fill="#000">Cfb</text><rect x="37.3" y="125.84" width="25.40" height="10.17" fill="#FF8000"/><text x="8.6" y="134.24" font-family="Liberation Sans" font-size="8.2" textLength="11.2" lengthAdjust="spacingAndGlyphs" fill="#000">Csa</text><rect x="37.3" y="136.01" width="25.40" height="10.17" fill="#FF8080"/><text x="8.6" y="144.41" font-family="Liberation Sans" font-size="8.2" textLength="11.4" lengthAdjust="spacingAndGlyphs" fill="#000">Csb</text><rect x="37.3" y="146.18" width="25.40" height="10.17" fill="#FFFF00"/><text x="8.6" y="154.58" font-family="Liberation Sans" font-size="8.2" textLength="11.6" lengthAdjust="spacingAndGlyphs" fill="#000">Dsa</text><rect x="37.3" y="156.35" width="25.40" height="10.17" fill="#FFFF80"/><text x="8.6" y="164.75" font-family="Liberation Sans" font-size="8.2" textLength="11.8" lengthAdjust="spacingAndGlyphs" fill="#000">Dsb</text><rect x="37.3" y="166.52" width="25.40" height="10.17" fill="#008000"/><text x="8.6" y="174.92" font-family="Liberation Sans" font-size="8.2" textLength="11.4" lengthAdjust="spacingAndGlyphs" fill="#000">Dca</text><rect x="37.3" y="176.69" width="25.40" height="10.17" fill="#80FFFF"/><text x="8.6" y="185.09" font-family="Liberation Sans" font-size="8.2" textLength="11.8" lengthAdjust="spacingAndGlyphs" fill="#000">Dcb</text><rect x="37.3" y="186.86" width="25.40" height="10.17" fill="#FF0000"/><text x="8.6" y="195.26" font-family="Liberation Sans" font-size="8.2" textLength="13.5" lengthAdjust="spacingAndGlyphs" fill="#000">BSh</text><rect x="37.3" y="197.03" width="25.40" height="10.17" fill="#FF0080"/><text x="8.6" y="205.43" font-family="Liberation Sans" font-size="8.2" textLength="16.2" lengthAdjust="spacingAndGlyphs" fill="#000">BWh</text><rect x="7.5" y="106.0" width="54.7" height="100.70" fill="none" stroke="#c8c8c8" stroke-width="1"/><line x1="7" y1="115.67" x2="62.7" y2="115.67" stroke="#5a5a5a" stroke-width="1"/><line x1="7" y1="125.84" x2="62.7" y2="125.84" stroke="#5a5a5a" stroke-width="1"/><line x1="7" y1="136.01" x2="62.7" y2="136.01" stroke="#5a5a5a" stroke-width="1"/><line x1="7" y1="146.18" x2="62.7" y2="146.18" stroke="#5a5a5a" stroke-width="1"/><line x1="7" y1="156.35" x2="62.7" y2="156.35" stroke="#5a5a5a" stroke-width="1"/><line x1="7" y1="166.52" x2="62.7" y2="166.52" stroke="#5a5a5a" stroke-width="1"/><line x1="7" y1="176.69" x2="62.7" y2="176.69" stroke="#5a5a5a" stroke-width="1"/><line x1="7" y1="186.86" x2="62.7" y2="186.86" stroke="#5a5a5a" stroke-width="1"/><line x1="7" y1="197.03" x2="62.7" y2="197.03" stroke="#5a5a5a" stroke-width="1"/><line x1="62.2" y1="105.5" x2="62.2" y2="207.2" stroke="#303030" stroke-width="1"/><line x1="37.3" y1="105.5" x2="37.3" y2="207.2" stroke="#d0d0d0" stroke-width="0.6"/><ellipse cx="512.7" cy="385.6" rx="1.6" ry="1.8" fill="#fff" stroke="#999" stroke-width="0.9"/><rect x="0.6" y="522.2" width="129.6" height="91" fill="none" stroke="#a8a8a8" stroke-width="1.3"/><rect x="132.2" y="560.6" width="86.3" height="52.6" fill="none" stroke="#a8a8a8" stroke-width="1.3"/><line x1="0" y1="614" x2="642" y2="614" stroke="#8c8c8c" stroke-width="2"/><rect x="640" y="0" width="2" height="615" fill="#9a9a9a"/><polyline points="472.6,608.8 472.6,554.5 494,530.2 640.5,530.2 640.5,608.8 472.6,608.8" fill="none" stroke="#808080" stroke-width="1.4"/><line x1="571.5" y1="545" x2="537.5" y2="604.5" stroke="#707070" stroke-width="0.8"/><ellipse cx="25.5" cy="542.7" rx="3.6" ry="5" transform="rotate(0 25.5 542.7)" fill="#00FF00" stroke="#8c8c8c" stroke-width="1"/><ellipse cx="24.5" cy="558.2" rx="4.6" ry="3.8" transform="rotate(10 24.5 558.2)" fill="#00FF00" stroke="#8c8c8c" stroke-width="1"/><ellipse cx="81.8" cy="560.8" rx="7.6" ry="5.4" transform="rotate(15 81.8 560.8)" fill="#00FF00" stroke="#8c8c8c" stroke-width="1"/><polygon points="31.0,563.0 34.0,561.0 38.0,563.5 45.0,568.0 52.0,573.5 53.0,575.5 48.0,575.0 40.0,571.5 33.0,568.5 30.5,566.0" fill="#00FF00" stroke="#8c8c8c" stroke-width="1"/><polygon points="55.0,578.0 58.0,577.0 61.0,581.0 66.0,584.5 73.0,585.5 82.0,585.8 86.0,588.5 84.0,591.5 76.0,590.5 70.0,591.0 64.0,589.0 57.0,584.0" fill="#00FF00" stroke="#8c8c8c" stroke-width="1"/><polygon points="44.5,552.5 46.0,552.8 55.0,561.0 65.0,569.5 65.5,571.0 63.0,570.5 53.0,563.0 45.0,555.0" fill="#fff" stroke="#8c8c8c" stroke-width="1"/><ellipse cx="57" cy="543.5" rx="1.8" ry="3.2" transform="rotate(-25 57 543.5)" fill="#fff" stroke="#8c8c8c" stroke-width="1"/><ellipse cx="91" cy="600.5" rx="3" ry="2.5" fill="#fff" stroke="#8c8c8c" stroke-width="1"/><ellipse cx="33.8" cy="530.5" rx="1" ry="1.5" fill="#fff" stroke="#8c8c8c" stroke-width="0.9"/><polygon points="151.5,579.6 155.4,577.3 159.3,580.4 168.6,580.4 174.8,584.3 178.7,586.6 173.3,588.2 170.2,591.3 163.9,591.3 156.2,587.4 152.3,583.5" fill="#FF8080" stroke="#707070" stroke-width="1"/><ellipse cx="197" cy="571" rx="2.5" ry="2" fill="none" stroke="#FF8080" stroke-width="1.3"/><line x1="184.3" y1="596" x2="187.3" y2="603" stroke="#555" stroke-width="0.9"/><polygon points="479.4,559.6 482.9,557.0 487.1,557.9 488.8,562.1 487.1,567.3 486.3,570.7 484.6,573.3 482.9,569.0 481.1,563.8" fill="#FF8040" stroke="#b0b0b0" stroke-width="0.6"/><polygon points="482.5,568.0 487.0,567.5 486.3,570.7 484.6,573.3" fill="#FF0000"/><polygon points="476.0,601.5 480.3,599.0 482.9,600.7 479.4,605.0 476.9,605.0" fill="#FF0000"/><polygon points="501.7,585.3 504.3,583.6 508.6,585.3 509.4,588.7 506.0,590.4 502.6,588.7" fill="#FF0000"/><polygon points="516.3,578.4 523.1,576.7 529.1,575.0 535.1,570.7 540.3,569.0 544.5,569.8 542.8,572.4 536.8,575.8 535.1,581.0 533.4,584.4 530.0,587.8 528.3,592.1 524.0,593.0 522.3,587.8 519.7,582.7 517.1,581.0" fill="#FF8040"/><polygon points="519.7,582.7 526.0,580.5 534.5,579.0 533.4,584.4 530.0,587.8 528.3,592.1 524.0,593.0 522.3,587.8" fill="#FF0000" /><polygon points="522.3,588.0 530.0,586.5 528.3,592.1 524.0,593.0" fill="#FF0080" /><polyline points="519.7,582.7 526,580.5 534.5,579" fill="none" stroke="#000" stroke-width="0.7"/><polygon points="554.8,591.3 557.4,586.1 562.5,585.3 567.7,586.1 569.4,591.3 570.2,596.4 567.7,599.8 563.4,602.4 557.4,599.8 554.8,596.4" fill="#FF8040"/><polygon points="554.8,594.0 562.0,595.0 570.0,592.0 570.2,596.4 567.7,599.8 563.4,602.4 557.4,599.8 554.8,596.4" fill="#FF0000"/><polyline points="554.8,594 562,595 570,592" fill="none" stroke="#000" stroke-width="0.7"/><polyline points="557,599 564,600.5 570,599" fill="none" stroke="#000" stroke-width="0.6"/><polygon points="621.5,557.5 624.0,551.0 628.0,547.5 632.5,545.0 634.5,540.5 637.5,541.5 638.0,546.0 636.0,550.0 631.0,553.5 626.0,557.5" fill="#FF0080"/><polygon points="599.5,590.0 606.0,586.0 610.0,580.0 613.5,571.0 617.5,563.0 622.0,561.5 624.0,565.0 623.0,572.0 621.5,580.0 617.0,585.5 610.0,589.5 603.0,592.0" fill="#FF0080"/></svg>
<div class="t">Los climas de España y Portugal según la<br>clasificación de Trewartha modificada por<br>Fernández Suberviola (2016)</div>
</body></html>
